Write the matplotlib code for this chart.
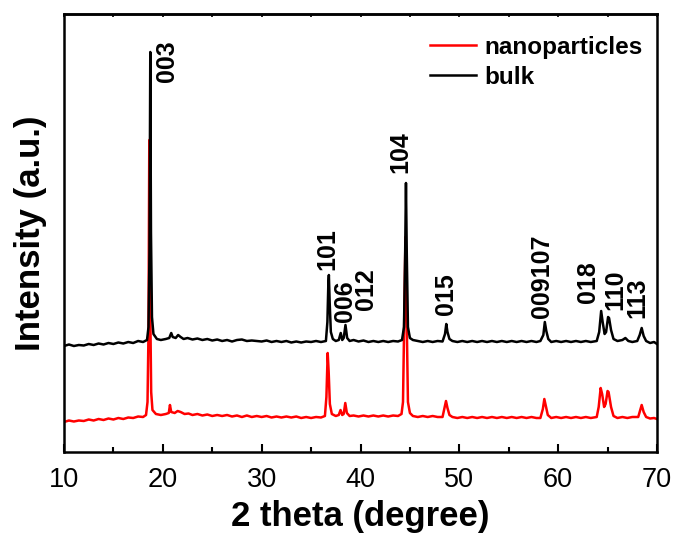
import matplotlib
matplotlib.use("Agg")
import matplotlib.pyplot as plt
from matplotlib.ticker import MultipleLocator

plt.rcParams['font.family'] = ['Liberation Sans', 'DejaVu Sans']

# ---------------- data ----------------
bulk_2theta = [10, 10.5, 11, 11.5, 12, 12.5, 13, 13.5, 14, 14.5, 15, 15.5, 16, 16.5, 17, 17.5, 18, 18.4,
               18.55, 18.65, 18.73, 18.8, 18.9, 19.05, 19.4,
               19.8, 20.3, 20.65, 20.85, 21.0, 21.3, 21.55, 21.8, 22.1, 22.5, 23, 23.5, 24, 24.5, 25, 25.5,
               26, 26.5, 27, 27.5, 28, 28.5, 29, 30, 30.5, 31, 31.5, 32, 32.5, 33, 33.5, 34, 34.5, 35, 35.5,
               36, 36.5,
               36.65, 36.75, 36.8, 36.88, 37.0, 37.2, 37.5, 37.8, 38.0, 38.15, 38.3, 38.48, 38.65, 38.9,
               39.3, 39.8, 40.3, 40.8, 41.3, 41.8, 42.3, 42.8, 43.3, 43.8, 44.2,
               44.4, 44.52, 44.6, 44.68, 44.8, 45.0, 45.3, 45.8, 46.3, 46.8, 47.3, 47.8, 48.3,
               48.55, 48.68, 48.8, 49.0, 49.3, 49.8, 50.3, 50.8, 51.3, 51.8, 52.3, 52.8, 53.3, 53.8, 54.3,
               54.8, 55.3, 55.8, 56.3, 56.8, 57.3, 57.8, 58.2,
               58.5, 58.65, 58.8, 59.0, 59.3, 59.8, 60.3, 60.8, 61.3, 61.8, 62.3, 62.8, 63.3, 63.9,
               64.15, 64.35, 64.5, 64.7, 64.85, 65.05, 65.15, 65.35, 65.6, 66.0, 66.5, 66.8, 67.1, 67.5,
               68.0, 68.25, 68.45, 68.65, 68.9, 69.3, 69.7, 70]
bulk_intensity = [106, 107.5, 106, 107, 106.5, 108, 107, 108.5, 107.5, 109, 108, 109.5, 108.5, 110, 109, 111, 110, 112,
                  125, 200, 400, 220, 135, 118, 113,
                  112, 113, 114, 119, 115, 114, 117, 115, 113, 114, 112.5, 113.5, 112, 113, 111.5, 112.5,
                  111, 112, 110.5, 112, 112.5, 111, 111.5, 110.5, 111.5, 110, 111, 110, 111, 109.5, 110.5, 109.5, 110.5, 110, 111,
                  110, 111,
                  130, 170, 177, 150, 120, 113, 111, 112, 119, 112, 114, 127, 114, 111,
                  112, 110.5, 111.5, 110, 111, 110, 111, 110, 111, 110.5, 112,
                  125, 200, 269, 200, 125, 114, 112, 111, 110, 111, 110, 111, 110.5,
                  118, 128, 120, 113, 111, 110, 111, 110, 111, 110, 111, 110, 111, 110, 111,
                  110, 111, 110, 111, 110, 111, 110, 111,
                  117, 130, 121, 113, 110, 111, 110, 111, 110, 111, 110, 111, 110, 111,
                  120, 141, 130, 118, 120, 135, 134, 122, 113, 111, 112, 114, 111, 110,
                  111, 117, 124, 116, 111, 109, 110, 108]

nano_2theta = [10, 10.5, 11, 11.5, 12, 12.5, 13, 13.5, 14, 14.5, 15, 15.5, 16, 16.5, 17, 17.5, 18, 18.3,
               18.45, 18.55, 18.63, 18.72, 18.82, 18.95, 19.3,
               19.8, 20.3, 20.6, 20.72, 20.85, 21.2, 21.5, 21.8, 22.2, 22.6, 23, 23.5, 24, 24.5, 25, 25.5,
               26, 26.5, 27, 27.5, 28, 28.5, 29, 29.5, 30, 30.5, 31, 31.5, 32, 32.5, 33, 33.5, 34, 34.5,
               35, 35.5, 36, 36.4,
               36.55, 36.68, 36.78, 36.9, 37.1, 37.5, 37.8, 37.98, 38.15, 38.3, 38.46, 38.62, 38.9,
               39.3, 39.8, 40.3, 40.8, 41.3, 41.8, 42.3, 42.8, 43.3, 43.8, 44.15,
               44.3, 44.45, 44.55, 44.65, 44.8, 45.0, 45.3, 45.8, 46.3, 46.8, 47.3, 47.8, 48.3,
               48.5, 48.65, 48.8, 49.0, 49.3, 49.8, 50.3, 50.8, 51.3, 51.8, 52.3, 52.8, 53.3, 53.8, 54.3,
               54.8, 55.3, 55.8, 56.3, 56.8, 57.3, 57.8, 58.2,
               58.45, 58.6, 58.75, 58.95, 59.3, 59.8, 60.3, 60.8, 61.3, 61.8, 62.3, 62.8, 63.3, 63.9,
               64.1, 64.3, 64.45, 64.65, 64.8, 65.0, 65.1, 65.35, 65.6, 66.0, 66.5, 67.0, 67.5,
               68.1, 68.3, 68.45, 68.65, 68.9, 69.3, 69.7, 70]
nano_intensity = [30, 31.5, 30.5, 31.5, 31, 32.5, 31.5, 33, 32, 33.5, 32.5, 34, 33, 34.5, 34, 35.5, 35, 37,
                  50, 120, 312, 150, 60, 42, 38,
                  37, 38, 39, 47, 40, 39, 41, 40, 38, 38.5, 37, 38, 36.5, 37.5, 36, 37,
                  36, 37, 35.5, 36.5, 35, 36.5, 35, 36, 35, 36, 34.5, 35.5, 34.5, 35.5, 34.5, 35.5, 34, 35,
                  34, 35, 34.5, 36,
                  55, 99, 80, 48, 38, 36, 37, 42, 37, 38, 49, 39, 36,
                  36.5, 35.5, 36.5, 35.5, 36.5, 35.5, 36.5, 35.5, 36.5, 36, 38,
                  50, 150, 215, 150, 50, 39, 36, 35, 36, 35, 36, 35, 35,
                  44, 51, 44, 37, 35, 34, 35, 34, 35, 34, 35, 34, 35, 34, 35,
                  34, 35, 34, 35, 34, 35, 34, 34,
                  43, 53, 46, 37, 34, 35, 34, 35, 34, 35, 34, 35, 34, 35,
                  45, 64, 58, 45, 48, 61, 60, 45, 36, 34, 35, 34, 35,
                  35, 42, 47, 40, 35, 33.5, 34, 33]

peak_labels = ['003', '101', '006', '012', '104', '015', '009107', '018', '110', '113']
label_2theta = [20.4, 36.6, 38.45, 40.6, 44.0, 48.7, 58.4, 63.0, 65.75, 68.0]
label_base = [370, 182, 130, 142, 279, 137, 134, 149, 142, 134]

# ---------------- figure ----------------
W, H = 678, 535
fig = plt.figure(figsize=(W / 100, H / 100), dpi=100)
ax = fig.add_axes([64 / W, (H - 452) / H, (657 - 64) / W, (452 - 14) / H])

ax.plot(nano_2theta, nano_intensity, color='#ff0000', lw=1.8, label='nanoparticles')
ax.plot(bulk_2theta, bulk_intensity, color='black', lw=1.8, label='bulk')

for lab, x, y in zip(peak_labels, label_2theta, label_base):
    ax.text(x, y, lab, rotation=90, ha='center', va='bottom',
            fontsize=18, fontweight='bold')

ax.set_xlim(10, 70)
ax.set_ylim(0, 438)
ax.xaxis.set_major_locator(MultipleLocator(10))
ax.xaxis.set_minor_locator(MultipleLocator(5))
ax.set_yticks([])
ax.tick_params(axis='x', which='major', direction='in', length=6, width=1.5,
               labelsize=19.5, pad=11)
ax.tick_params(axis='x', which='minor', direction='in', length=3.5, width=1.5)
for s in ax.spines.values():
    s.set_linewidth(1.8)

top = ax.secondary_xaxis('top')
top.xaxis.set_major_locator(MultipleLocator(5))
top.tick_params(direction='in', length=2, width=1.2, labelsize=0)
top.set_xticklabels([])
top.spines['top'].set_linewidth(1.8)

ax.set_xlabel('2 theta (degree)', fontsize=25, fontweight='bold', labelpad=5)
ax.set_ylabel('Intensity (a.u.)', fontsize=25, fontweight='bold', labelpad=12)

leg = ax.legend(loc='upper left', bbox_to_anchor=(430 / W, 1 - 36 / H),
                bbox_transform=fig.transFigure, frameon=False, borderpad=0,
                borderaxespad=0, handlelength=1.9, handletextpad=0.35,
                labelspacing=0.28, prop={'size': 17.5, 'weight': 'bold'})

fig.savefig('out.png', dpi=100)
